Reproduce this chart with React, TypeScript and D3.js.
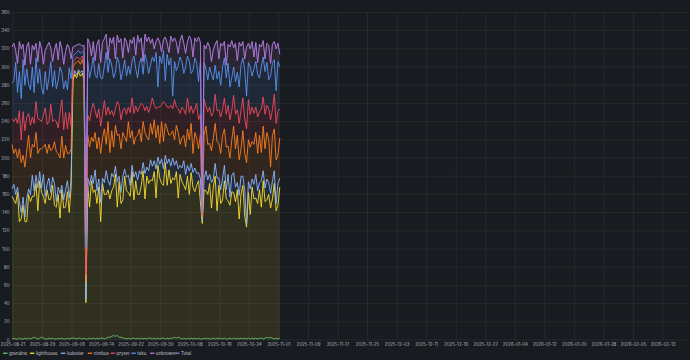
import React, { useEffect } from "react";
import * as d3 from "d3";

// ---- data: 12-hourly samples from 2025-08-20 18:00 UTC ----
const startTime = Date.UTC(2025, 7, 20, 18);
const stepHours = 12;

const grandine = [
  1,2,1,1,2,1,1,2,1,2,1,2,3,2,1,2,3,2,1,1,2,1,2,1,1,2,1,2,1,1,2,1,2,
  2,2,1,2,2,1,2,
  1,
  1,2,1,2,1,2,1,2,2,1,2,3,3,4,5,4,5,3,3,2,2,1,2,1,2,2,1,2,1,2,1,2,1,2,2,1,2,1,2,1,2,2,1,2,1,2,2,3,2,3,2,1,2,1,2,1,2,1,2,1,2,1,
  1,2,1,2,1,1,2,1,2,1,2,1,2,1,1,2,1,2,1,2,1,2,1,2,1,2,1,2,1,2,1,2,2,1,2,3,2,3,2,1,2,1,2,
];
const lighthouse = [
  157,152,149,161,128,132,147,128,129,158,151,156,155,170,141,173,159,156,149,164,152,154,168,147,145,158,133,163,144,145,161,139,166,
  283,290,287,293,288,292,284,
  40,
  169,144,174,160,164,148,167,128,170,159,158,162,152,160,163,178,141,171,147,152,178,163,160,157,183,152,174,158,159,168,185,153,179,170,174,174,183,155,190,177,170,168,194,168,186,170,176,173,183,153,180,173,168,164,178,159,182,167,161,169,173,151,
  127,163,163,158,171,144,166,179,140,169,148,153,173,154,152,146,162,160,151,163,132,158,169,134,123,160,137,166,154,154,149,163,144,174,150,151,158,142,153,171,140,147,166,
];
const lodestar = [
  8,17,10,6,22,7,9,5,26,6,8,23,6,9,25,10,5,24,8,6,24,7,9,24,6,8,27,5,9,19,12,16,8,
  3,4,3,2,4,3,3,
  3,
  8,24,6,10,22,14,9,21,6,13,26,10,15,19,11,9,28,6,12,26,8,15,19,12,7,25,10,16,26,12,9,28,10,14,22,16,12,32,9,15,27,18,8,24,12,19,22,16,12,32,10,15,27,17,12,26,10,16,26,13,9,25,
  3,12,22,16,10,28,9,14,36,8,15,23,17,10,29,9,18,22,16,8,26,20,10,29,4,12,28,9,16,26,14,8,29,11,15,23,13,16,20,14,8,24,10,
];
const nimbus = [
  49,34,50,32,58,55,46,55,52,59,40,34,48,47,38,25,43,30,57,34,37,46,31,46,55,37,39,54,46,49,30,49,34,
  12,8,14,10,9,12,11,
  20,
  47,42,42,46,41,46,46,54,44,59,29,65,36,47,33,45,51,46,48,48,35,39,59,52,38,36,38,49,46,36,45,45,33,34,40,35,45,34,35,23,41,30,35,38,26,35,30,28,39,40,23,33,28,30,40,34,44,21,39,39,26,49,
  4,48,49,39,34,35,45,44,40,38,40,48,40,47,31,43,39,51,42,52,39,30,50,40,67,46,46,41,44,46,41,52,31,49,43,51,47,29,50,46,48,31,44,
];
const prysm = [
  28,35,34,38,42,25,48,40,37,24,36,30,26,34,38,32,30,35,40,32,25,51,30,24,33,28,50,40,31,36,27,45,25,
  5,4,6,3,5,4,6,
  8,
  22,29,30,42,24,34,31,30,26,31,32,16,42,22,34,18,37,32,32,24,32,30,16,28,36,34,34,26,24,42,18,24,34,30,19,40,16,32,20,40,18,44,22,24,30,32,24,44,20,26,34,34,28,36,34,30,19,44,26,38,32,22,
  3,40,22,36,40,38,28,32,34,37,40,28,34,36,45,42,32,34,38,28,40,42,36,38,37,44,36,38,34,28,40,26,48,32,38,30,34,52,28,38,40,48,32,
];
const teku = [
  39,45,61,34,43,45,57,50,53,32,39,55,34,48,39,56,37,23,40,38,48,47,38,54,36,52,50,30,45,35,43,49,52,
  7,6,5,8,7,5,9,
  30,
  59,47,45,51,39,44,50,53,39,38,69,38,61,50,42,40,49,46,44,44,53,42,45,42,40,63,41,37,48,50,34,62,49,43,45,45,48,62,22,56,46,56,25,58,47,52,14,42,40,48,62,50,40,52,46,56,36,47,56,44,42,58,
  2,40,41,35,44,46,36,32,35,42,35,47,44,40,46,36,36,31,36,41,40,50,44,53,36,41,52,34,49,50,47,37,46,44,47,47,32,48,51,38,36,55,46,
];
const unknown = [
  40,41,13,32,33,55,17,22,25,46,28,24,47,16,24,30,43,33,23,48,39,15,28,23,50,23,28,26,27,32,50,22,22,
  10,9,8,7,10,6,9,
  12,
  25,38,14,17,16,37,26,17,40,30,20,14,23,24,45,15,24,23,45,14,24,38,15,38,20,21,15,47,23,22,14,22,22,40,24,20,14,12,54,15,13,12,48,12,14,24,60,26,31,13,18,29,33,15,16,28,37,15,22,24,49,21,
  2,19,22,41,22,14,33,23,42,14,46,23,18,14,21,44,41,21,42,13,49,21,18,13,54,21,20,38,13,21,13,37,22,18,14,21,38,14,21,20,46,20,14,
];

const seriesNames = ["grandine", "lighthouse", "lodestar", "nimbus", "prysm", "teku", "unknown"];
const seriesValues = [grandine, lighthouse, lodestar, nimbus, prysm, teku, unknown];
const seriesColors = ["#73bf69", "#fade2a", "#8ab8ff", "#ff7f1a", "#f2495c", "#5794f2", "#b877d9"];
const totalName = "Total";
const totalColor = "#9f7fe0";

const yTicks = [0, 20, 40, 60, 80, 100, 120, 140, 160, 180, 200, 220, 240, 260, 280, 300, 320, 340, 360];
const xTickLabels = [
  "2025-08-21", "2025-08-29", "2025-09-06", "2025-09-14", "2025-09-22", "2025-09-30",
  "2025-10-08", "2025-10-16", "2025-10-24", "2025-11-01", "2025-11-09", "2025-11-17",
  "2025-11-25", "2025-12-03", "2025-12-11", "2025-12-19", "2025-12-27", "2026-01-04",
  "2026-01-12", "2026-01-20", "2026-01-28", "2026-02-05", "2026-02-13",
];

const W = 690;
const H = 360;
const FONT = "Inter, 'Noto Sans', sans-serif";

export default function App() {
  useEffect(() => {
    document.body.style.margin = "0";
    document.body.style.background = "#181b1f";
  }, []);

  const n = Math.min(...seriesValues.map((s) => s.length));
  const rows = d3.range(n).map((i) => {
    const r: any = { time: new Date(startTime + i * stepHours * 3600 * 1000) };
    seriesNames.forEach((k, j) => (r[k] = seriesValues[j][i]));
    return r;
  });

  const x = d3
    .scaleUtc()
    .domain([new Date(Date.UTC(2025, 7, 20, 18)), new Date(Date.UTC(2026, 1, 19, 18))])
    .range([12, 688]);
  const y = d3.scaleLinear().domain([0, 360]).range([340, 12.4]);

  const stacked = d3.stack<any>().keys(seriesNames)(rows);
  const area = d3
    .area<any>()
    .x((d) => x(d.data.time))
    .y0((d) => y(d[0]))
    .y1((d) => y(d[1]));
  const line = d3
    .line<any>()
    .x((d) => x(d.data.time))
    .y((d) => y(d[1]));

  const parse = d3.utcParse("%Y-%m-%d");
  const xTicks = xTickLabels.map((s) => ({ label: s, date: parse(s) as Date }));

  const legendNames = [...seriesNames, totalName];
  const legendColors = [...seriesColors, totalColor];
  const charW = 2.05;
  let lx = 3;
  const legend = legendNames.map((name, i) => {
    const item = { name, color: legendColors[i], x: lx };
    lx += 6 + name.length * charW + 4.5;
    return item;
  });

  const top = stacked[stacked.length - 1];

  return (
    <svg
      width={W}
      height={H}
      style={{ position: "absolute", left: 0, top: 0, display: "block" }}
      fontFamily={FONT}
    >
      <rect x={0} y={0} width={W} height={H} fill="#181b1f" />
      {yTicks.map((t) => (
        <line key={"gy" + t} x1={12} x2={688} y1={y(t)} y2={y(t)} stroke="#2b2e34" strokeWidth={0.7} />
      ))}
      {xTicks.map((t) => (
        <line key={"gx" + t.label} x1={x(t.date)} x2={x(t.date)} y1={12} y2={340} stroke="#2b2e34" strokeWidth={0.7} />
      ))}
      {stacked.map((layer, i) => (
        <path key={"a" + i} d={area(layer) || ""} fill={seriesColors[i]} fillOpacity={0.11} />
      ))}
      {stacked.map((layer, i) => (
        <path key={"l" + i} d={line(layer) || ""} fill="none" stroke={seriesColors[i]} strokeWidth={0.9} />
      ))}
      <path d={line(top) || ""} fill="none" stroke={totalColor} strokeWidth={0.6} strokeOpacity={0.6} />
      {yTicks.map((t) => (
        <text key={"ty" + t} x={9.5} y={y(t)} dy="0.35em" textAnchor="end" fontSize={4.4} fill="#b9bac2">
          {t}
        </text>
      ))}
      {xTicks.map((t) => (
        <text key={"tx" + t.label} x={x(t.date)} y={345.5} textAnchor="middle" fontSize={4.4} fill="#b9bac2">
          {t.label}
        </text>
      ))}
      {legend.map((it) => (
        <g key={"lg" + it.name}>
          <rect x={it.x} y={352.6} width={4.5} height={1.3} fill={it.color} />
          <text x={it.x + 6} y={353.3} dy="0.35em" fontSize={4.4} fill="#c4c5cc">
            {it.name}
          </text>
        </g>
      ))}
    </svg>
  );
}
